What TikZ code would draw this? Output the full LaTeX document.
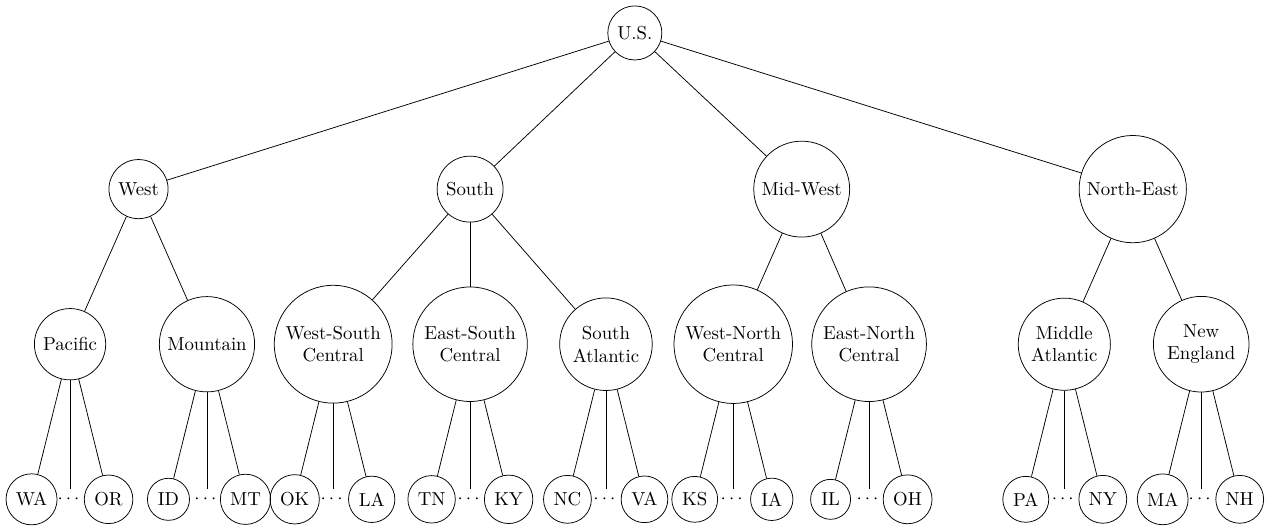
\documentclass[tikz,border=0pt]{standalone}
\usepackage{amsmath, amssymb}
\usepackage{tikz}
\usetikzlibrary{positioning}

\begin{document}
\begin{tikzpicture}[thin,
    region/.style={draw, circle, align=center},
    gap/.style={inner sep=0.3333em}]
    \useasboundingbox (0,0) rectangle (23.69,9.836);
    % Root
    \node[region] (us) at (11.87,9.22) {U.S.};

    % Regions
    \node[region] (west) at (2.59,6.30) {West};
    \node[region] (south) at (8.79,6.30) {South};
    \node[region] (midwest) at (14.99,6.30) {Mid-West};
    \node[region] (northeast) at (21.18,6.30) {North-East};

    % Divisions
    \node[region] (pacific) at (1.31,3.40) {Pacific};
    \node[region] (mountain) at (3.87,3.40) {Mountain};
    \node[region] (wsc) at (6.23,3.40) {West-South\\Central};
    \node[region] (esc) at (8.79,3.40) {East-South\\Central};
    \node[region] (satl) at (11.33,3.40) {South\\Atlantic};
    \node[region] (wnc) at (13.71,3.40) {West-North\\Central};
    \node[region] (enc) at (16.25,3.40) {East-North\\Central};
    \node[region] (midatl) at (19.90,3.40) {Middle\\Atlantic};
    \node[region] (newengl) at (22.46,3.40) {New\\England};

    % States
    \node[region] (wa) at (0.59,0.50) {WA};
    \node[gap] (pacdots) at (1.31,0.50) {$\cdots$};
    \node[region] (or) at (2.03,0.50) {OR};
    \node[region] (id) at (3.15,0.50) {ID};
    \node[gap] (mtndots) at (3.87,0.50) {$\cdots$};
    \node[region] (mt) at (4.59,0.50) {MT};
    \node[region] (ok) at (5.51,0.50) {OK};
    \node[gap] (wscdots) at (6.23,0.50) {$\cdots$};
    \node[region] (la) at (6.95,0.50) {LA};
    \node[region] (tn) at (8.07,0.50) {TN};
    \node[gap] (escdots) at (8.79,0.50) {$\cdots$};
    \node[region] (ky) at (9.51,0.50) {KY};
    \node[region] (nc) at (10.61,0.50) {NC};
    \node[gap] (satldots) at (11.33,0.50) {$\cdots$};
    \node[region] (va) at (12.05,0.50) {VA};
    \node[region] (ks) at (12.99,0.50) {KS};
    \node[gap] (wncdots) at (13.71,0.50) {$\cdots$};
    \node[region] (ia) at (14.43,0.50) {IA};
    \node[region] (il) at (15.53,0.50) {IL};
    \node[gap] (encdots) at (16.25,0.50) {$\cdots$};
    \node[region] (oh) at (16.97,0.50) {OH};
    \node[region] (pa) at (19.18,0.50) {PA};
    \node[gap] (matdots) at (19.90,0.50) {$\cdots$};
    \node[region] (ny) at (20.62,0.50) {NY};
    \node[region] (ma) at (21.74,0.50) {MA};
    \node[gap] (newdots) at (22.46,0.50) {$\cdots$};
    \node[region] (nh) at (23.18,0.50) {NH};

    % Edges
    \draw (us) -- (west);
    \draw (us) -- (south);
    \draw (us) -- (midwest);
    \draw (us) -- (northeast);
    \draw (west) -- (pacific);
    \draw (west) -- (mountain);
    \draw (south) -- (wsc);
    \draw (south) -- (esc);
    \draw (south) -- (satl);
    \draw (midwest) -- (wnc);
    \draw (midwest) -- (enc);
    \draw (northeast) -- (midatl);
    \draw (northeast) -- (newengl);
    \draw (pacific) -- (wa);
    \draw (pacific) -- (pacdots);
    \draw (pacific) -- (or);
    \draw (mountain) -- (id);
    \draw (mountain) -- (mtndots);
    \draw (mountain) -- (mt);
    \draw (wsc) -- (ok);
    \draw (wsc) -- (wscdots);
    \draw (wsc) -- (la);
    \draw (esc) -- (tn);
    \draw (esc) -- (escdots);
    \draw (esc) -- (ky);
    \draw (satl) -- (nc);
    \draw (satl) -- (satldots);
    \draw (satl) -- (va);
    \draw (wnc) -- (ks);
    \draw (wnc) -- (wncdots);
    \draw (wnc) -- (ia);
    \draw (enc) -- (il);
    \draw (enc) -- (encdots);
    \draw (enc) -- (oh);
    \draw (midatl) -- (pa);
    \draw (midatl) -- (matdots);
    \draw (midatl) -- (ny);
    \draw (newengl) -- (ma);
    \draw (newengl) -- (newdots);
    \draw (newengl) -- (nh);
\end{tikzpicture}
\end{document}
